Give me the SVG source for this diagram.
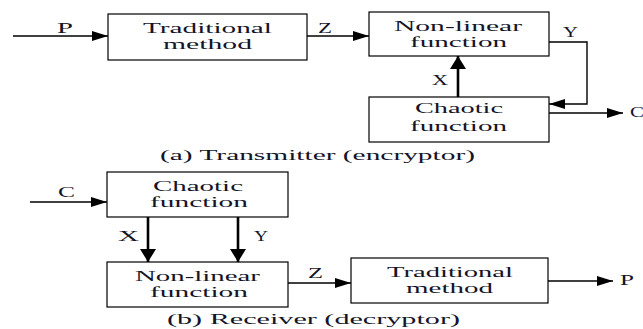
<svg xmlns="http://www.w3.org/2000/svg" width="643" height="329" viewBox="0 0 643 329">
<style>
.box{fill:#fff;stroke:#000;stroke-width:1.2}
.ln{fill:none;stroke:#000;stroke-width:1.4}
.tk{fill:none;stroke:#000;stroke-width:2.6}
text{font-family:"Liberation Serif","Times New Roman",serif;font-size:15px;fill:#141428;lengthAdjust:spacingAndGlyphs}
.c{text-anchor:middle}
</style>
<defs>
<marker id="ah" viewBox="0 0 16 10" refX="16" refY="5" markerWidth="16" markerHeight="10" markerUnits="userSpaceOnUse" orient="auto"><path d="M0,0 L16,5 L0,10 z" fill="#000"/></marker>
<marker id="ahb" viewBox="0 0 13 16" refX="13" refY="8" markerWidth="13" markerHeight="16" markerUnits="userSpaceOnUse" orient="auto"><path d="M0,0 L13,8 L0,16 z" fill="#000"/></marker>
</defs>
<g id="connectors">
<line class="ln" x1="13" y1="36" x2="108" y2="36" marker-end="url(#ah)"/>
<line class="ln" x1="307" y1="36" x2="369" y2="36" marker-end="url(#ah)"/>
<polyline class="ln" points="549,42 587,42 587,104 549,104" marker-end="url(#ah)"/>
<line class="tk" x1="458" y1="97" x2="458" y2="56" marker-end="url(#ahb)"/>
<line class="ln" x1="549" y1="113" x2="623" y2="113" marker-end="url(#ah)"/>
<line class="ln" x1="30" y1="202" x2="107" y2="202" marker-end="url(#ah)"/>
<line class="tk" x1="148" y1="217" x2="148" y2="262" marker-end="url(#ahb)"/>
<line class="tk" x1="238" y1="217" x2="238" y2="262" marker-end="url(#ahb)"/>
<line class="ln" x1="288" y1="283" x2="351" y2="283" marker-end="url(#ah)"/>
<line class="ln" x1="548" y1="281" x2="613" y2="281" marker-end="url(#ah)"/>
</g>
<g id="labels">
<text x="57" y="33" textLength="16" lengthAdjust="spacingAndGlyphs">P</text>
<text x="318" y="33" textLength="14" lengthAdjust="spacingAndGlyphs">Z</text>
<text x="563" y="37" textLength="15" lengthAdjust="spacingAndGlyphs">Y</text>
<text x="432" y="85" textLength="16" lengthAdjust="spacingAndGlyphs">X</text>
<text x="630" y="117" textLength="14" lengthAdjust="spacingAndGlyphs">C</text>
<text x="58" y="197" textLength="17" lengthAdjust="spacingAndGlyphs">C</text>
<text x="118" y="241" textLength="21" lengthAdjust="spacingAndGlyphs">X</text>
<text x="254" y="241" textLength="14" lengthAdjust="spacingAndGlyphs">Y</text>
<text x="308" y="278" textLength="15" lengthAdjust="spacingAndGlyphs">Z</text>
<text x="620" y="285" textLength="14" lengthAdjust="spacingAndGlyphs">P</text>
<text x="160" y="160" textLength="315" lengthAdjust="spacingAndGlyphs">(a) Transmitter (encryptor)</text>
<text x="167" y="324" textLength="293" lengthAdjust="spacingAndGlyphs">(b)  Receiver (decryptor)</text>
</g>
<g id="trad-a">
<rect class="box" x="108" y="14" width="199" height="46"/>
<text class="c" x="207.5" y="33" textLength="129" lengthAdjust="spacingAndGlyphs">Traditional</text>
<text class="c" x="207.5" y="49" textLength="89" lengthAdjust="spacingAndGlyphs">method</text>
</g>
<g id="nonlin-a">
<rect class="box" x="369" y="12" width="180" height="44"/>
<text class="c" x="458" y="31" textLength="128" lengthAdjust="spacingAndGlyphs">Non-linear</text>
<text class="c" x="458.5" y="47" textLength="97" lengthAdjust="spacingAndGlyphs">function</text>
</g>
<g id="chaotic-a">
<rect class="box" x="369" y="97" width="180" height="45"/>
<text class="c" x="459" y="113" textLength="88" lengthAdjust="spacingAndGlyphs">Chaotic</text>
<text class="c" x="458.5" y="131" textLength="97" lengthAdjust="spacingAndGlyphs">function</text>
</g>
<g id="chaotic-b">
<rect class="box" x="107" y="172" width="181" height="45"/>
<text class="c" x="198" y="191" textLength="90" lengthAdjust="spacingAndGlyphs">Chaotic</text>
<text class="c" x="199" y="207" textLength="98" lengthAdjust="spacingAndGlyphs">function</text>
</g>
<g id="nonlin-b">
<rect class="box" x="107" y="262" width="181" height="45"/>
<text class="c" x="197.5" y="281" textLength="125" lengthAdjust="spacingAndGlyphs">Non-linear</text>
<text class="c" x="199" y="297" textLength="98" lengthAdjust="spacingAndGlyphs">function</text>
</g>
<g id="trad-b">
<rect class="box" x="351" y="258" width="197" height="45"/>
<text class="c" x="450" y="277" textLength="126" lengthAdjust="spacingAndGlyphs">Traditional</text>
<text class="c" x="449.5" y="293" textLength="87" lengthAdjust="spacingAndGlyphs">method</text>
</g>
</svg>
